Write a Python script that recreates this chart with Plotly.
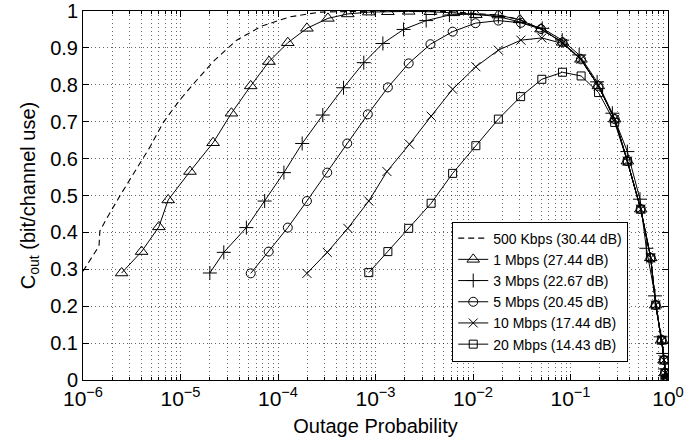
import plotly.graph_objects as go

# Outage probability (x) and outage capacity (y) for each data rate
p_500k = [1.0e-6, 1.46e-6, 1.49e-6, 1.76e-6, 2.39e-6, 3.41e-6, 4.85e-6, 6.7e-6, 9.84e-6,
          1.47e-5, 2.24e-5, 3.77e-5, 6.8e-5, 1.32e-4, 2.67e-4, 6.86e-4, 2.0e-3, 6.0e-3,
          1.07e-2, 1.82e-2, 3.03e-2, 0.0498, 0.0828, 0.128, 0.193, 0.284, 0.383, 0.525,
          0.665, 0.748, 0.861, 0.910, 0.931, 0.96, 0.99]
c_500k = [0.295, 0.363, 0.404, 0.439, 0.499, 0.564, 0.631, 0.699, 0.759,
          0.813, 0.867, 0.921, 0.959, 0.984, 0.997, 0.999, 1.0, 0.998,
          0.993, 0.989, 0.977, 0.951, 0.915, 0.869, 0.797, 0.707, 0.593, 0.463,
          0.331, 0.203, 0.108, 0.054, 0.019, 0.005, 0.0]

p_1m = [2.49e-6, 3.99e-6, 6.0e-6, 7.48e-6, 1.25e-5, 2.16e-5, 3.33e-5, 5.25e-5, 8.09e-5,
        1.26e-4, 1.98e-4, 3.25e-4, 5.2e-4, 8.53e-4, 1.34e-3, 2.19e-3, 3.66e-3, 6.3e-3,
        1.07e-2, 1.82e-2, 3.03e-2, 0.0498, 0.0828, 0.128, 0.193, 0.284, 0.383, 0.525,
        0.665, 0.748, 0.861, 0.910, 0.931, 0.96, 0.99]
c_1m = [0.29, 0.348, 0.415, 0.488, 0.565, 0.643, 0.723, 0.797, 0.863,
        0.914, 0.953, 0.980, 0.992, 0.997, 0.998, 0.999, 0.998, 0.995,
        0.990, 0.989, 0.976, 0.951, 0.915, 0.869, 0.797, 0.707, 0.593, 0.463,
        0.331, 0.203, 0.108, 0.054, 0.019, 0.005, 0.0]

p_3m = [2.0e-5, 2.78e-5, 4.74e-5, 7.3e-5, 1.15e-4, 1.77e-4, 2.88e-4, 4.70e-4, 7.58e-4,
        1.19e-3, 1.94e-3, 3.31e-3, 5.73e-3, 9.55e-3, 0.0182, 0.0303, 0.0513, 0.0822,
        0.1227, 0.1876, 0.2687, 0.383, 0.516, 0.600, 0.736, 0.841, 0.895, 0.931, 0.977]
c_3m = [0.29, 0.346, 0.413, 0.485, 0.562, 0.641, 0.718, 0.792, 0.860,
        0.912, 0.950, 0.974, 0.989, 0.992, 0.985, 0.970, 0.953, 0.921,
        0.881, 0.808, 0.723, 0.619, 0.490, 0.357, 0.228, 0.117, 0.072, 0.030, 0.005]

p_5m = [5.25e-5, 8.02e-5, 1.26e-4, 1.98e-4, 3.2e-4, 5.13e-4, 8.34e-4, 1.34e-3, 2.19e-3,
        3.66e-3, 6.18e-3, 1.06e-2, 1.82e-2, 3.1e-2, 0.0498, 0.0828, 0.128, 0.193, 0.284,
        0.383, 0.525, 0.665, 0.748, 0.861, 0.910, 0.931, 0.96, 0.99]
c_5m = [0.289, 0.348, 0.413, 0.485, 0.562, 0.641, 0.720, 0.793, 0.858,
        0.910, 0.944, 0.967, 0.974, 0.968, 0.951, 0.915, 0.869, 0.797, 0.707,
        0.593, 0.463, 0.331, 0.203, 0.108, 0.054, 0.019, 0.005, 0.0]

p_10m = [1.98e-4, 3.2e-4, 5.2e-4, 8.53e-4, 1.31e-3, 2.23e-3, 3.72e-3, 6.18e-3, 1.07e-2,
         1.82e-2, 3.1e-2, 0.0508, 0.0828, 0.128, 0.193, 0.284, 0.383, 0.525,
         0.665, 0.748, 0.861, 0.910, 0.931, 0.96, 0.99]
c_10m = [0.289, 0.346, 0.411, 0.485, 0.565, 0.639, 0.715, 0.788, 0.849,
         0.894, 0.921, 0.927, 0.912, 0.869, 0.797, 0.707, 0.593, 0.463,
         0.331, 0.203, 0.108, 0.054, 0.019, 0.005, 0.0]

p_20m = [8.53e-4, 1.34e-3, 2.19e-3, 3.72e-3, 6.18e-3, 1.07e-2, 1.82e-2, 3.08e-2, 0.0508,
         0.0828, 0.1285, 0.194, 0.284, 0.383, 0.525, 0.665, 0.748, 0.861, 0.910, 0.931,
         0.96, 0.99]
c_20m = [0.291, 0.348, 0.411, 0.479, 0.560, 0.635, 0.707, 0.768, 0.815,
         0.834, 0.824, 0.779, 0.698, 0.593, 0.463, 0.331, 0.203, 0.108, 0.054, 0.019,
         0.005, 0.0]

series_names = ["500 Kbps (30.44 dB)", "1 Mbps (27.44 dB)", "3 Mbps (22.67 dB)",
                "5 Mbps (20.45 dB)", "10 Mbps (17.44 dB)", "20 Mbps (14.43 dB)"]

x_tickvals = [1e-6, 1e-5, 1e-4, 1e-3, 1e-2, 1e-1, 1]
x_ticktext = ["10<sup>−6</sup>", "10<sup>−5</sup>", "10<sup>−4</sup>", "10<sup>−3</sup>",
              "10<sup>−2</sup>", "10<sup>−1</sup>", "10<sup>0</sup>"]
y_tickvals = [0, 0.1, 0.2, 0.3, 0.4, 0.5, 0.6, 0.7, 0.8, 0.9, 1]
y_ticktext = ["0", "0.1", "0.2", "0.3", "0.4", "0.5", "0.6", "0.7", "0.8", "0.9", "1"]

minor_x = [k * 10.0 ** e for e in range(-6, 0) for k in range(2, 10)]

FONT = "Liberation Sans, Arial, Helvetica, sans-serif"

fig = go.Figure()

fig.add_trace(go.Scatter(
    x=p_500k, y=c_500k, mode="lines", name=series_names[0],
    line=dict(color="black", width=1.1, dash="6px,4px"),
))

styles = [
    ("triangle-up-open", 11),
    ("cross-thin-open", 10),
    ("circle-open", 9),
    ("x-thin-open", 9),
    ("square-open", 8),
]
datasets = [(p_1m, c_1m), (p_3m, c_3m), (p_5m, c_5m), (p_10m, c_10m), (p_20m, c_20m)]

for (xs, ys), (sym, size), name in zip(datasets, styles, series_names[1:]):
    fig.add_trace(go.Scatter(
        x=xs, y=ys, mode="lines+markers", name=name,
        line=dict(color="black", width=1),
        marker=dict(symbol=sym, size=size, color="black",
                    line=dict(color="black", width=1)),
    ))

grid_color = "rgba(0,0,0,0.6)"
grid_dash = "1px,3px"

fig.update_layout(
    width=697, height=438,
    margin=dict(l=83, r=29, t=11, b=58),
    paper_bgcolor="white", plot_bgcolor="white",
    font=dict(family=FONT, size=20, color="black"),
    showlegend=True,
    legend=dict(
        x=0.932, y=0.05, xanchor="right", yanchor="bottom",
        bgcolor="white", bordercolor="black", borderwidth=1,
        font=dict(family=FONT, size=14, color="black"),
        tracegroupgap=0, itemwidth=30,
    ),
    xaxis=dict(
        type="log", range=[-6, 0], automargin=False,
        tickvals=x_tickvals, ticktext=x_ticktext,
        ticks="inside", ticklen=6, tickcolor="black",
        showline=True, linecolor="black", linewidth=1, mirror="allticks",
        showgrid=True, gridcolor=grid_color, griddash=grid_dash, gridwidth=1,
        zeroline=False,
        tickfont=dict(family=FONT, size=21, color="black"),
        title=dict(text="Outage Probability", standoff=9,
                   font=dict(family=FONT, size=20, color="black")),
        minor=dict(tickvals=minor_x, ticks="inside", ticklen=3, tickcolor="black",
                   showgrid=True, gridcolor=grid_color, griddash=grid_dash, gridwidth=1),
    ),
    yaxis=dict(
        range=[0, 1], automargin=False,
        tickvals=y_tickvals, ticktext=y_ticktext,
        ticks="inside", ticklen=6, tickcolor="black",
        showline=True, linecolor="black", linewidth=1, mirror="allticks",
        showgrid=True, gridcolor=grid_color, griddash=grid_dash, gridwidth=1,
        zeroline=False,
        tickfont=dict(family=FONT, size=20, color="black"),
        title=dict(text="C<sub>out</sub> (bit/channel use)", standoff=9,
                   font=dict(family=FONT, size=20, color="black")),
    ),
)

fig.write_html("out.html")
